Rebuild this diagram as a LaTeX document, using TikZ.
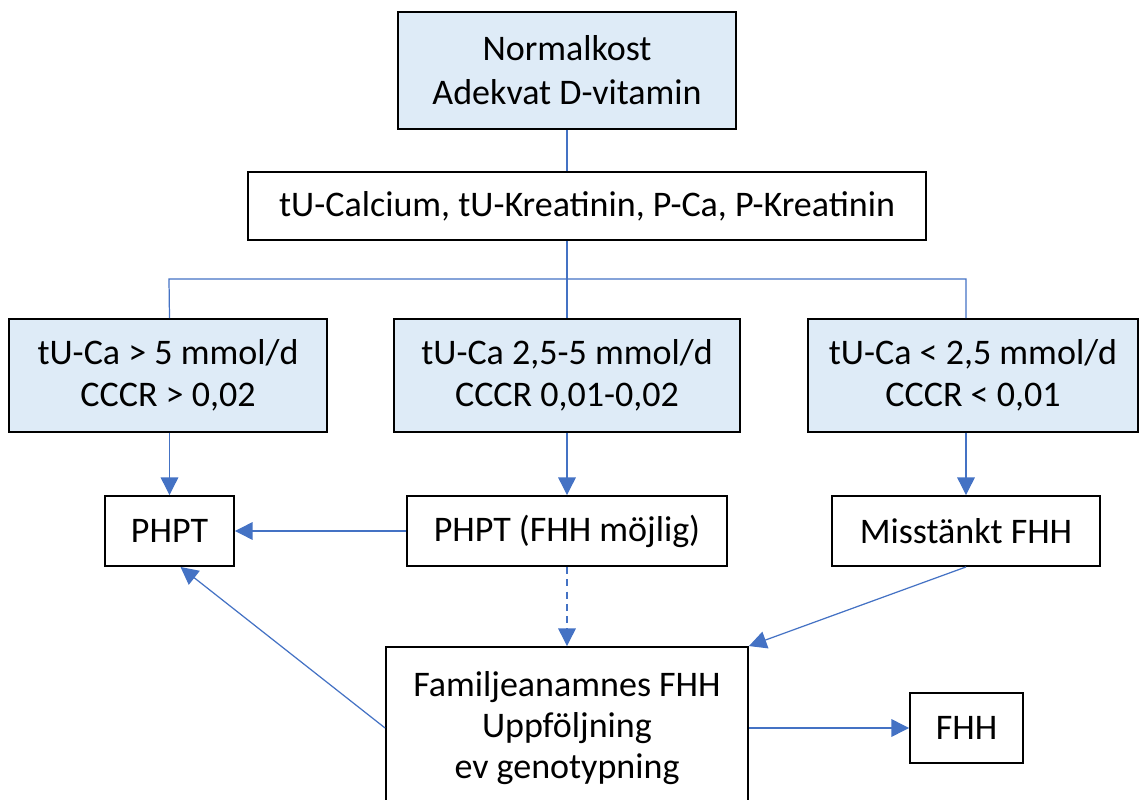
\documentclass[tikz,border=0pt]{standalone}
\usepackage{fontspec}
\setmainfont{Carlito}
\usetikzlibrary{arrows.meta}
\definecolor{lineblue}{HTML}{4472C4}
\definecolor{boxfill}{HTML}{DEEBF7}

\begin{document}
\begin{tikzpicture}[x=0.02cm, y=-0.02cm,
  box/.style={draw=black, line width=1.1pt, align=center, inner sep=0pt, font=\fontsize{20.5}{24}\selectfont},
  bluebox/.style={box, fill=boxfill},
  link/.style={draw=lineblue, line width=0.7pt},
  arr/.style={link, -{Triangle[length=10pt,width=10pt]}}]

\useasboundingbox (0,0) rectangle (1140,800);

\node[bluebox, minimum width=6.76cm, minimum height=2.34cm, font=\fontsize{20.5}{25}\selectfont] (kost) at (567,70.5) {Normalkost\\Adekvat D-vitamin};
\node[box, minimum width=13.56cm, minimum height=1.36cm] (prov) at (587,206) {tU-Calcium, tU-Kreatinin, P-Ca, P-Kreatinin};

\node[bluebox, minimum width=6.36cm, minimum height=2.26cm] (hog) at (168,375.5) {tU-Ca > 5 mmol/d\\CCCR > 0,02};
\node[bluebox, minimum width=6.92cm, minimum height=2.26cm] (mel) at (567,375.5) {tU-Ca 2,5-5 mmol/d\\CCCR 0,01-0,02};
\node[bluebox, minimum width=6.6cm, minimum height=2.26cm] (lag) at (973,375.5) {tU-Ca < 2,5 mmol/d\\CCCR < 0,01};

\node[box, minimum width=2.58cm, minimum height=1.4cm] (phpt) at (169.5,531) {PHPT};
\node[box, minimum width=6.4cm, minimum height=1.4cm] (phptf) at (567,531) {PHPT (FHH möjlig)};
\node[box, minimum width=5.36cm, minimum height=1.4cm] (misst) at (966,531) {Misstänkt FHH};

\node[box, minimum width=7.24cm, minimum height=3.24cm, font=\fontsize{20.5}{23.5}\selectfont] (fam) at (567,728) {Familjeanamnes FHH\\Uppföljning\\ev genotypning};
\node[box, minimum width=2.26cm, minimum height=1.4cm] (fhh) at (966.5,728) {FHH};

% tree from top
\draw[link] (kost.south) -- (kost.south |- prov.north);
\draw[link] (kost.south |- prov.south) -- (567,279);
\draw[link] (phpt.north |- hog.north) -- (169,279) -| (misst.north |- lag.north);
\draw[link] (567,279) -- (mel.north);

% down arrows
\draw[arr] (phpt.north |- hog.south) -- (phpt.north);
\draw[arr] (mel.south) -- (phptf.north);
\draw[arr] (misst.north |- lag.south) -- (misst.north);

\draw[arr] (phptf.west) -- (phpt.east);
\draw[arr, dash pattern=on 4pt off 3pt] (phptf.south) -- (fam.north);
\draw[arr] (misst.south) -- (fam.north east);
\draw[arr] (fam.west) -- ([xshift=0.22cm]phpt.south);
\draw[arr] (fam.east) -- (fhh.west);

\end{tikzpicture}
\end{document}
